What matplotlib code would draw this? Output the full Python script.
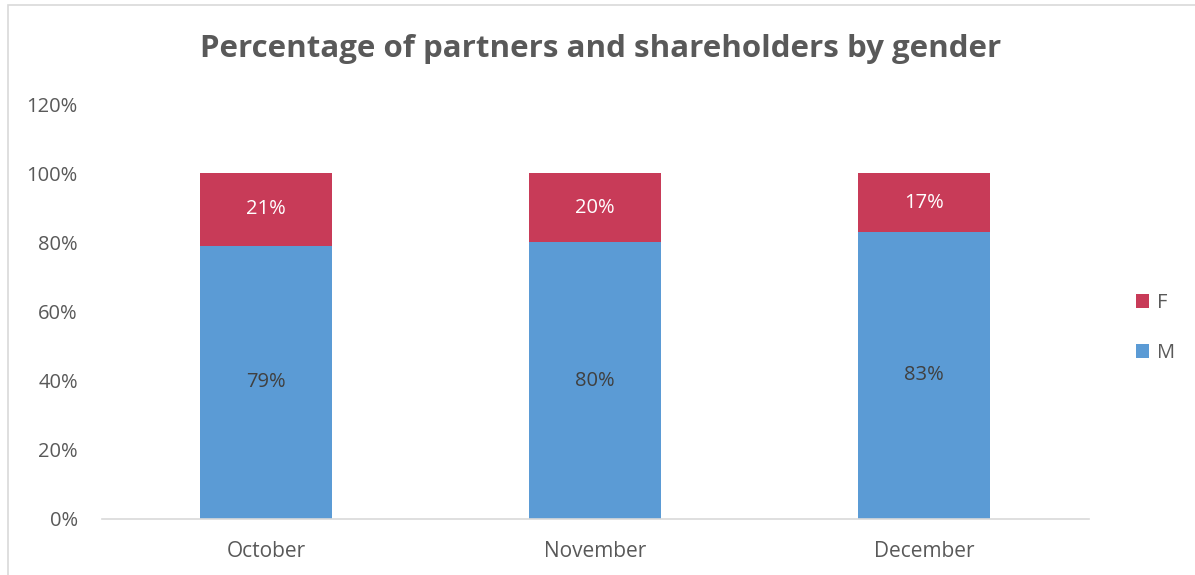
import matplotlib
matplotlib.use("Agg")
import matplotlib.pyplot as plt
from matplotlib.patches import Rectangle
from matplotlib.ticker import FuncFormatter

categories = ["October", "November", "December"]
male = [79, 80, 83]
female = [21, 20, 17]
series_names = ["M", "F"]
title = "Percentage of partners and shareholders by gender"

BLUE = "#5B9BD5"
RED = "#C83B58"
GRAY = "#595959"

plt.rcParams['font.family'] = ['Open Sans', 'DejaVu Sans']

W, H = 1195, 575
fig = plt.figure(figsize=(W / 100, H / 100), dpi=100)
ax = fig.add_axes([101.5 / W, 1 - 519 / H, 987 / W, (519 - 104) / H])

x = list(range(len(categories)))
bw = 0.40
bm = ax.bar(x, male, width=bw, color=BLUE, label=series_names[0], zorder=2)
bf = ax.bar(x, female, width=bw, bottom=male, color=RED, label=series_names[1], zorder=2)

for i in x:
    ax.text(i, male[i] / 2, f"{male[i]}%", ha="center", va="center",
            fontsize=14.5, color="#404040")
    ax.text(i, male[i] + female[i] / 2, f"{female[i]}%", ha="center", va="center",
            fontsize=14.5, color="white")

ax.set_xlim(-0.5, len(categories) - 0.5)
ax.set_ylim(0, 120)
ax.set_yticks(range(0, 121, 20))
ax.yaxis.set_major_formatter(FuncFormatter(lambda v, p: f"{int(v)}%"))
ax.set_xticks(x)
ax.set_xticklabels(categories)
ax.tick_params(axis="y", length=0, pad=17, labelsize=14.5, labelcolor=GRAY)
ax.tick_params(axis="x", length=0, pad=16, labelsize=15, labelcolor=GRAY)
for s in ["top", "right", "left"]:
    ax.spines[s].set_visible(False)
ax.spines["bottom"].set_color("#D9D9D9")
ax.spines["bottom"].set_linewidth(1.2)

fig.text(601 / W, 1 - 49 / H, title, ha="center", va="center",
         fontsize=22.5, fontweight="bold", color=GRAY)

handles, labels = ax.get_legend_handles_labels()
leg = fig.legend(handles[::-1], labels[::-1], loc="center left",
                 bbox_to_anchor=(1118 / W, 1 - 328 / H), frameon=False,
                 fontsize=14.5, labelcolor=GRAY, handlelength=0.65, handleheight=0.65,
                 handletextpad=0.4, labelspacing=1.5)

fig.add_artist(Rectangle((8 / W, -0.1), 1.2, 1.1 - 5 / H, transform=fig.transFigure,
                         fill=False, edgecolor="#D9D9D9", linewidth=1.2))

fig.savefig("out.png", dpi=100)
